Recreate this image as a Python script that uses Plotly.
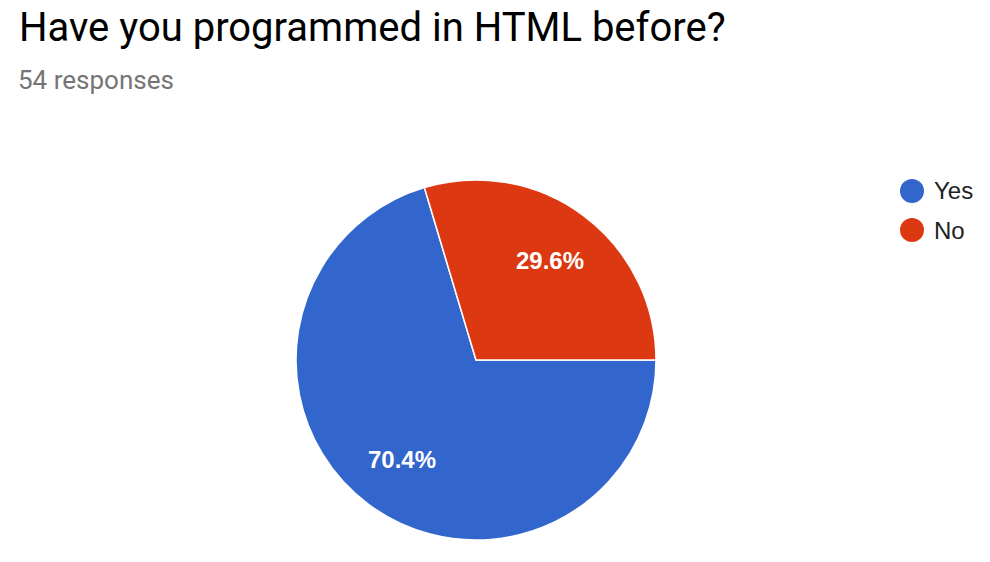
import math
import plotly.graph_objects as go

labels = ["Yes", "No"]
values = [38, 16]
colors = ["#3366CC", "#DC3912"]
title_text = "Have you programmed in HTML before?"
subtitle_text = "54 responses"

W, H = 990, 562
CX, CY, R = 476, 360, 180
ROT = 90  # first slice starts at 3 o'clock, clockwise

def px(x):
    return x / W

def py(y):
    return 1 - y / H

fig = go.Figure()
fig.add_trace(go.Pie(
    labels=labels,
    values=values,
    marker=dict(colors=colors, line=dict(color="white", width=1.5)),
    sort=False,
    direction="clockwise",
    rotation=ROT,
    textinfo="none",
    showlegend=False,
    hoverinfo="label+percent",
    domain=dict(x=[px(CX - R), px(CX + R)], y=[py(CY + R), py(CY - R)]),
))

annotations = [
    dict(text=title_text, x=px(17), y=py(27), xref="paper", yref="paper",
         xanchor="left", yanchor="middle", showarrow=False,
         font=dict(family="Roboto", size=40, color="#000000")),
    dict(text=subtitle_text, x=px(16), y=py(80), xref="paper", yref="paper",
         xanchor="left", yanchor="middle", showarrow=False,
         font=dict(family="Roboto", size=26, color="#757575")),
]

# slice percentage labels placed along each slice's mid-angle
total = sum(values)
start = ROT
for v in values:
    frac = v / total
    mid = start + frac * 360 / 2
    a = math.radians(mid)
    tx = CX + 0.69 * R * math.sin(a)
    ty = CY - 0.69 * R * math.cos(a)
    annotations.append(dict(text=f"{frac * 100:.1f}%", x=px(tx), y=py(ty),
                            xref="paper", yref="paper", xanchor="center", yanchor="middle",
                            showarrow=False,
                            font=dict(family="Liberation Sans, Arial", size=24, color="white",
                                      weight="bold")))
    start += frac * 360

shapes = []
leg_y = [191, 230]
for i, (lab, col) in enumerate(zip(labels, colors)):
    cy = leg_y[i]
    shapes.append(dict(type="circle", xref="paper", yref="paper",
                       x0=px(900), x1=px(924), y0=py(cy + 12), y1=py(cy - 12),
                       fillcolor=col, line=dict(width=0)))
    annotations.append(dict(text=lab, x=px(932), y=py(cy), xref="paper", yref="paper",
                            xanchor="left", yanchor="middle", showarrow=False,
                            font=dict(family="Liberation Sans, Arial", size=24, color="#222222")))

fig.update_layout(
    width=W, height=H,
    margin=dict(l=0, r=0, t=0, b=0),
    paper_bgcolor="white", plot_bgcolor="white",
    annotations=annotations, shapes=shapes,
)

fig.write_html("out.html")
